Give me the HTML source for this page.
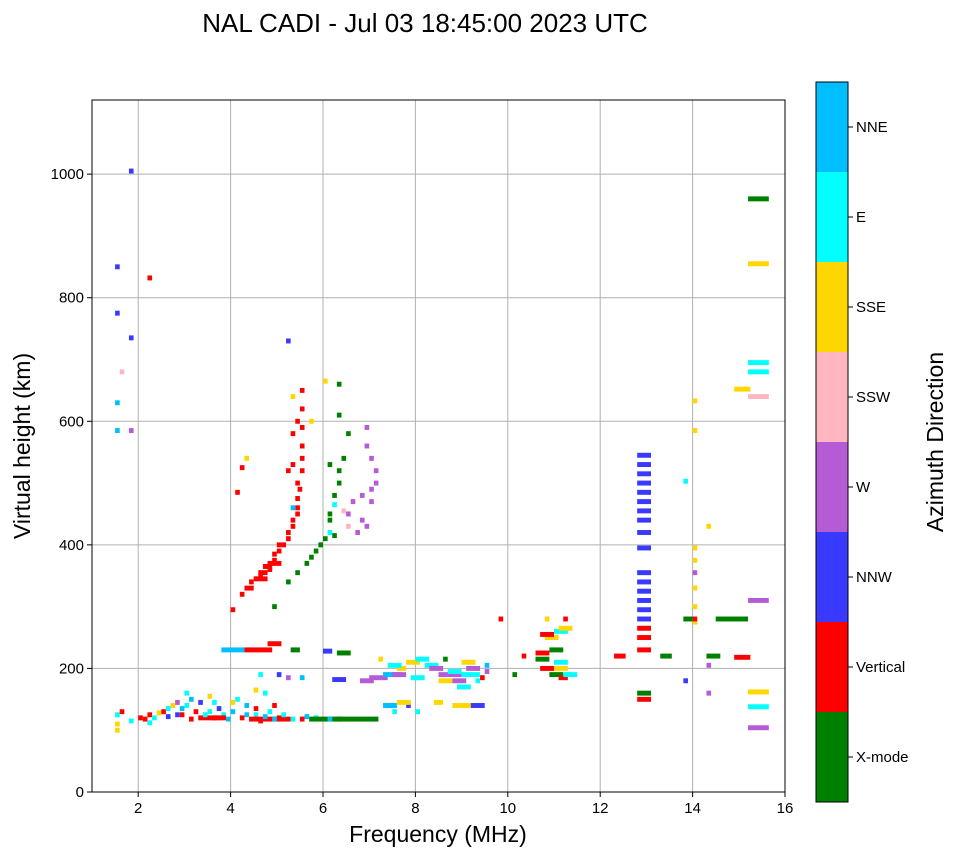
<!DOCTYPE html>
<html><head><meta charset="utf-8">
<style>
body{margin:0;background:#fff;}
svg text{font-family:"Liberation Sans",sans-serif;fill:#000;}
</style></head>
<body>
<svg id="chart" width="958" height="857">
<text x="425" y="32" font-size="26" text-anchor="middle">NAL CADI - Jul 03 18:45:00 2023 UTC</text>
<g id="grid"></g>
<g id="marks"></g>
<rect x="92" y="100" width="693" height="692" fill="none" stroke="#000" stroke-width="1"/>
<g id="axes"></g>
<text x="438" y="842" font-size="23" text-anchor="middle">Frequency (MHz)</text>
<text transform="translate(30,446) rotate(-90)" font-size="23" text-anchor="middle">Virtual height (km)</text>
<g id="cbar"></g>
<text transform="translate(943,442) rotate(-90)" font-size="23" text-anchor="middle">Azimuth Direction</text>
</svg>
<script>
const xTicks=[2,4,6,8,10,12,14,16];
const yTicks=[0,200,400,600,800,1000];
const directions=["X-mode","Vertical","NNW","W","SSW","SSE","E","NNE"];
const dirColors=["#008000","#ff0000","#3a3aff","#b65bd6","#ffb6c1","#ffd700","#00ffff","#00bfff"];
// [frequency MHz, height km, direction index, optional width MHz]
const echoes=[
[1.5,110,5],[1.5,100,5],[1.5,125,6],[1.6,130,1],[1.8,115,6],[2.0,120,1],[2.1,118,1],[2.2,125,1],[2.3,120,6],[2.4,128,5],[2.5,130,1],[2.6,135,6],[2.7,140,5],[2.8,125,2],[3.0,160,6],[3.0,140,6],[3.1,150,7],[3.2,130,1],[3.3,145,2],[3.5,130,6],[3.6,120,1],[3.8,125,6],[4.0,130,7],[4.1,150,6],[4.2,120,1],[4.3,140,7],[4.5,125,6],[4.6,115,1],[4.8,130,6],[5.0,120,1],[5.2,118,1],[5.5,118,1],[5.8,120,6],[6.0,118,6],[5.7,118,0,1.5],[4.5,165,5],[4.7,160,6],[3.5,155,5],[3.3,120,1,0.6],[4.4,118,1,0.8],
[2.9,125,1],[2.9,135,7],[3.1,118,1],[3.4,125,6],[3.7,135,2],[3.9,118,7],[4.0,145,5],[4.3,125,7],[4.5,135,1],[4.7,122,7],[4.9,118,7],[5.1,125,6],[5.3,118,6],[5.6,122,7],[6.1,118,7],[6.3,118,0],[2.2,112,6],[2.6,122,2],[2.8,145,3],[3.6,145,6],[4.9,140,1],[5.2,185,3],[4.6,190,6],
[3.8,230,7,0.5],[4.3,230,1,0.6],[4.8,240,1,0.3],[5.3,230,0,0.2],[6.0,228,2,0.2],[6.3,225,0,0.3],[5.0,190,2],[5.5,185,7],[6.2,182,2,0.3],[6.8,180,3,0.3],[7.0,185,3,0.4],[7.3,190,7,0.4],[7.6,200,5,0.2],[7.8,210,5,0.3],[8.2,205,6,0.3],[8.5,190,3,0.5],[8.7,195,6,0.3],[9.0,190,6,0.4],[9.3,180,6],[9.5,205,7],[9.0,210,5,0.3],[8.6,215,0],[7.5,190,3,0.3],[7.3,140,7,0.3],[7.8,140,2],[8.0,130,6],[8.4,145,5,0.2],[8.8,140,5,0.4],[9.2,140,2,0.3],[7.5,130,6],
[7.2,215,5],[7.4,205,6,0.3],[7.9,185,6,0.3],[8.3,200,3,0.3],[8.5,180,5,0.3],[8.8,180,3,0.3],[9.1,200,3,0.3],[9.4,185,1],[9.5,195,3],[7.6,145,5,0.3],[8.0,215,6,0.3],[8.9,170,6,0.3],
[4.0,295,1],[4.2,320,1],[4.4,340,1],[4.6,350,1],[4.8,360,1],[4.9,375,1],[5.0,390,1],[5.1,400,1],[5.2,420,1],[5.3,440,1],[5.4,460,1],[5.45,490,1],[5.5,520,1],[5.5,560,1],[5.5,620,1],[5.3,640,5],[4.1,485,1],[4.2,525,1],[4.3,540,5],[5.7,600,5],[5.3,580,1],[5.2,520,1],[4.5,345,1,0.3],[4.8,370,1,0.3],
[4.3,330,1,0.2],[4.6,355,1,0.2],[4.7,365,1,0.2],[4.9,385,1],[5.0,400,1],[5.2,410,1],[5.3,430,1],[5.4,450,1],[5.4,475,1],[5.3,460,7],[5.4,500,1],[5.5,540,1],[5.5,590,1],[5.5,650,1],[5.3,530,1],[5.4,600,1],
[5.2,340,0],[5.4,355,0],[5.6,370,0],[5.8,390,0],[6.0,410,0],[6.1,450,0],[6.2,480,0],[6.3,520,0],[6.4,540,0],[6.5,580,0],[6.3,610,0],[6.1,530,0],[6.1,420,6],[6.4,455,4],[6.6,470,3],[6.7,420,3],[6.9,430,3],[7.0,470,3],[7.1,500,3],[6.9,560,3],[6.9,590,3],[7.0,540,3],[6.3,660,0],[6.0,665,5],[4.9,300,0],
[5.7,380,0],[5.9,400,0],[6.1,440,0],[6.2,465,6],[6.3,500,0],[6.2,415,0],[6.5,450,3],[6.8,440,3],[7.0,490,3],[7.1,520,3],[6.8,480,3],[6.5,430,4],
[1.5,850,2],[1.5,775,2],[1.5,630,7],[1.5,585,7],[1.8,1005,2],[2.2,832,1],[1.8,735,2],[1.8,585,3],[1.6,680,4],[5.2,730,2],
[10.3,220,1],[10.6,215,0,0.3],[10.7,200,1,0.3],[10.9,190,0,0.3],[11.0,210,6,0.3],[11.1,185,1,0.2],[10.8,250,5,0.3],[11.0,260,6,0.3],[11.2,280,1],[10.8,280,5],[10.1,190,0],[9.8,280,1],
[10.6,225,1,0.3],[10.9,230,0,0.3],[11.0,200,5,0.3],[11.2,190,6,0.3],[10.7,255,1,0.3],[11.1,265,5,0.3],
[12.3,220,1,0.25],[12.8,150,1,0.3],[12.8,160,0,0.3],[12.8,230,1,0.3],[12.8,250,1,0.3],[12.8,265,1,0.3],[12.8,280,2,0.3],[12.8,295,2,0.3],[12.8,310,2,0.3],[12.8,325,2,0.3],[12.8,340,2,0.3],[12.8,355,2,0.3],[12.8,395,2,0.3],[12.8,420,2,0.3],[12.8,440,2,0.3],[12.8,455,2,0.3],[12.8,470,2,0.3],[12.8,485,2,0.3],[12.8,500,2,0.3],[12.8,515,2,0.3],[12.8,530,2,0.3],[12.8,545,2,0.3],[13.3,220,0,0.25],
[13.8,180,2],[13.8,503,6],[13.8,280,0,0.2],[14.0,275,5],[14.0,280,1],[14.0,300,5],[14.0,330,5],[14.0,355,3],[14.0,375,5],[14.0,395,5],[14.0,585,5],[14.0,633,5],[14.3,430,5],[14.3,205,3],[14.3,160,3],[14.3,220,0,0.3],[14.5,280,0,0.7],[14.9,218,1,0.35],[14.9,652,5,0.35],[15.2,960,0,0.45],[15.2,855,5,0.45],[15.2,695,6,0.45],[15.2,680,6,0.45],[15.2,640,4,0.45],[15.2,310,3,0.45],[15.2,162,5,0.45],[15.2,138,6,0.45],[15.2,104,3,0.45]
];
const NS="http://www.w3.org/2000/svg";
const X0=92,X1=785,Y0=792,Y1=100,xmin=1,xmax=16,ymin=0,ymax=1120;
const xs=v=>X0+(v-xmin)/(xmax-xmin)*(X1-X0);
const ys=v=>Y0-(v-ymin)/(ymax-ymin)*(Y0-Y1);
function mk(tag,attrs,parent){const e=document.createElementNS(NS,tag);for(const k in attrs)e.setAttribute(k,attrs[k]);parent.appendChild(e);return e;}
const grid=document.getElementById('grid'),axes=document.getElementById('axes'),marks=document.getElementById('marks'),cb=document.getElementById('cbar');
xTicks.forEach(t=>{
  const x=xs(t);
  if(t<xmax){const g=mk('line',{x1:x,x2:x,y1:Y1,y2:Y0,stroke:'#b0b0b0','stroke-width':1},grid);
  
  }
  mk('line',{x1:x,x2:x,y1:Y0,y2:Y0+5,stroke:'#000'},axes);
  const tx=mk('text',{x:x,y:Y0+21,'font-size':15,'text-anchor':'middle'},axes);tx.textContent=t;
  
  
});
yTicks.forEach(t=>{
  const y=ys(t);
  if(t>0){const g=mk('line',{x1:X0,x2:X1,y1:y,y2:y,stroke:'#b0b0b0','stroke-width':1},grid);
  
  }
  mk('line',{x1:X0-5,x2:X0,y1:y,y2:y,stroke:'#000'},axes);
  const tx=mk('text',{x:X0-8,y:y+5,'font-size':15,'text-anchor':'end'},axes);tx.textContent=t;
  
  
});
echoes.forEach(d=>{
  const w=d[3]||0.1;
  const r=mk('rect',{x:xs(d[0]),y:ys(d[1]+4),width:Math.max(3,xs(d[0]+w)-xs(d[0])),height:Math.max(3,ys(d[1]-4)-ys(d[1]+4)),fill:dirColors[d[2]]},marks);
  
  
});
const CX=816,CY=82,CW=32,CH=720,seg=CH/directions.length;
directions.forEach((n,i)=>{
  const y=CY+CH-(i+1)*seg;
  const r=mk('rect',{x:CX,y:y,width:CW,height:seg,fill:dirColors[i]},cb);
  
  
  mk('line',{x1:CX+CW,x2:CX+CW+5,y1:y+seg/2,y2:y+seg/2,stroke:'#000'},cb);
  const tx=mk('text',{x:CX+CW+8,y:y+seg/2+5,'font-size':15},cb);tx.textContent=n;
  
  
});
mk('rect',{x:CX,y:CY,width:CW,height:CH,fill:'none',stroke:'#000'},cb);
</script>
</body></html>
